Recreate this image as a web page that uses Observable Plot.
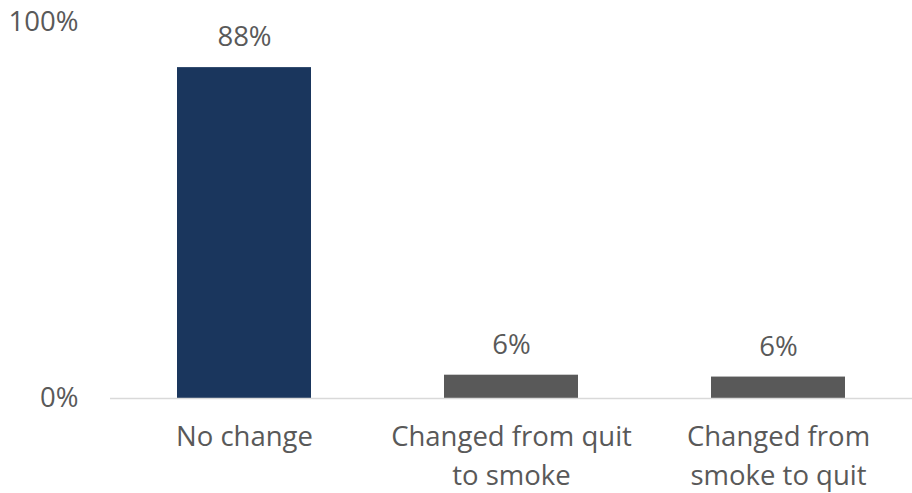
<!DOCTYPE html>
<html>
<head>
<meta charset="utf-8">
<script src="https://cdn.jsdelivr.net/npm/d3@7"></script>
<script src="https://cdn.jsdelivr.net/npm/@observablehq/plot@0.6"></script>
<style>
  html, body { margin: 0; padding: 0; background: #fff; }
  #chart svg { display: block; }
</style>
</head>
<body>
<div id="chart"></div>
<script>
const categories = ["No change", "Changed from quit\nto smoke", "Changed from\nsmoke to quit"];
const values = [0.88, 0.062, 0.057];
const labels = ["88%", "6%", "6%"];
const colors = ["#1a365d", "#595959", "#595959"];
const yTicks = [0, 1];
const yTickLabels = ["0%", "100%"];

const data = categories.map((c, i) => ({category: c, value: values[i], label: labels[i], color: colors[i]}));
const font = "'Open Sans', sans-serif";
const fs = 27.5;

const chart = Plot.plot({
  width: 912,
  height: 493,
  marginLeft: 110,
  marginRight: 0,
  marginTop: 22,
  marginBottom: 95,
  style: {fontFamily: font, fontSize: fs + "px", color: "#595959", background: "#fff"},
  x: {domain: categories, paddingInner: 0.5, paddingOuter: 0.25, label: null},
  y: {domain: [0, 1], label: null},
  marks: [
    Plot.barY(data, {x: "category", y: "value", fill: "color"}),
    Plot.ruleY([0], {stroke: "#d9d9d9", strokeWidth: 1.5}),
    Plot.text(data, {x: "category", y: "value", text: "label", dy: -30, fill: "#595959", fontSize: fs}),
    Plot.axisY({ticks: yTicks, tickFormat: (d) => yTickLabels[yTicks.indexOf(d)], tickSize: 0, tickPadding: 32, fontSize: fs, fill: "#595959", label: null}),
    Plot.axisX({tickSize: 0, tickPadding: 20, fontSize: fs, fill: "#595959", lineHeight: 1.42, label: null})
  ]
});
document.getElementById("chart").appendChild(chart);
</script>
</body>
</html>
